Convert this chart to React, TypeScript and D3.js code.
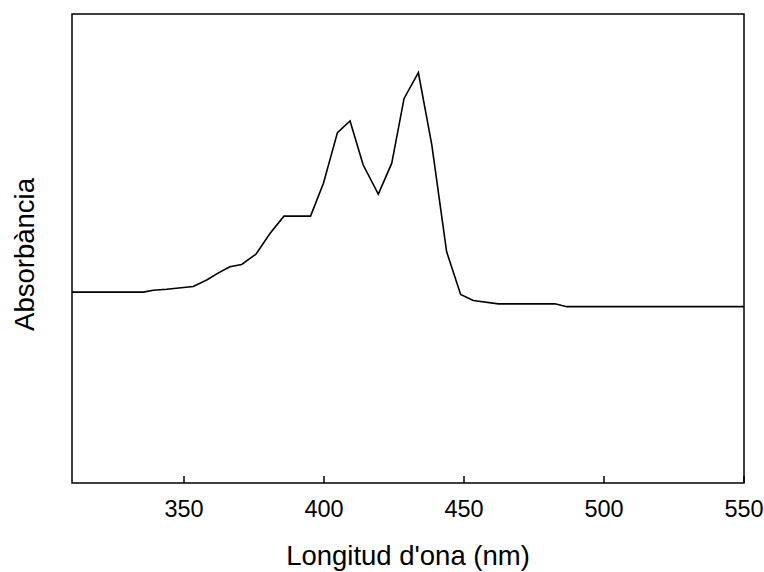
import React from "react";
import * as d3 from "d3";

const wavelengths = [310, 335.5, 339, 343.8, 353.3, 358.1, 362.3, 366.4, 370.6, 375.7, 380.7, 385.7, 395.2, 399.8, 404.8, 409.3, 414, 419.4, 424.2, 428.6, 433.7, 438.5, 443.8, 448.8, 453.3, 462.3, 482.5, 486.7, 550];
const absorbance = [0.407, 0.407, 0.411, 0.413, 0.419, 0.433, 0.448, 0.461, 0.466, 0.488, 0.532, 0.569, 0.569, 0.639, 0.747, 0.772, 0.678, 0.616, 0.682, 0.82, 0.875, 0.721, 0.493, 0.402, 0.389, 0.382, 0.382, 0.376, 0.376];
const xTicks = [350, 400, 450, 500, 550];
const xLabel = "Longitud d'ona (nm)";
const yLabel = "Absorbància";

const W = 764, H = 572;
const L = 72, R = 744, T = 14, B = 483;

export default function App() {
  const x = d3.scaleLinear().domain([310, 550]).range([L, R]);
  const y = d3.scaleLinear().domain([0, 1]).range([B, T]);
  const pts: [number, number][] = wavelengths.map((w, i) => [w, absorbance[i]]);
  const line = d3.line<[number, number]>().x(d => x(d[0])).y(d => y(d[1]));
  const font = "Liberation Sans, Arial, sans-serif";
  return (
    <svg width={W} height={H} style={{ position: "absolute", left: 0, top: 0, background: "#fff" }}>
      <rect x={0} y={0} width={W} height={H} fill="#fff" />
      <path d={line(pts) || ""} fill="none" stroke="#000" strokeWidth={1.6} strokeLinejoin="miter" />
      <rect x={L} y={T} width={R - L} height={B - T} fill="none" stroke="#000" strokeWidth={1.5} />
      {xTicks.map(t => (
        <g key={t}>
          <line x1={x(t)} x2={x(t)} y1={B} y2={B - 7} stroke="#000" strokeWidth={1.5} />
          <text x={x(t)} y={517} textAnchor="middle" fontFamily={font} fontSize={23.5} fill="#000">{t}</text>
        </g>
      ))}
      <text x={408} y={565} textAnchor="middle" fontFamily={font} fontSize={27.5} fill="#000">{xLabel}</text>
      <text transform={`translate(34,${254.5}) rotate(-90)`} textAnchor="middle" fontFamily={font} fontSize={27.5} fill="#000">{yLabel}</text>
    </svg>
  );
}
